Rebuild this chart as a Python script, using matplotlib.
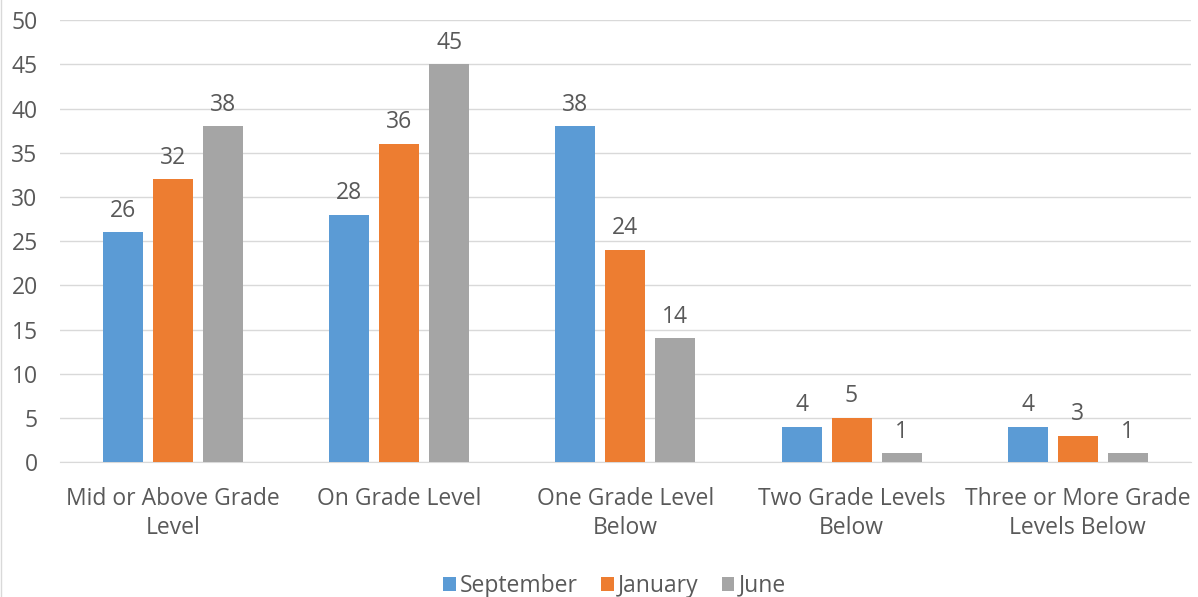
import matplotlib.pyplot as plt
import numpy as np

categories = ["Mid or Above Grade\nLevel", "On Grade Level", "One Grade Level\nBelow",
              "Two Grade Levels\nBelow", "Three or More Grade\nLevels Below"]
september = [26, 28, 38, 4, 4]
january = [32, 36, 24, 5, 3]
june = [38, 45, 14, 1, 1]

series = [("September", september, "#5B9BD5"),
          ("January", january, "#ED7D31"),
          ("June", june, "#A5A5A5")]

plt.rcParams['font.family'] = ['Open Sans', 'DejaVu Sans']
txt = "#595959"
fs = 16.5

fig = plt.figure(figsize=(11.98, 5.97), dpi=100)
ax = fig.add_axes([0.050, 0.226, 0.944, 0.740])

x = np.arange(len(categories))
w = 0.177
step = 0.221
for i, (name, vals, col) in enumerate(series):
    bars = ax.bar(x + (i - 1) * step, vals, w, color=col, label=name, zorder=3)
    for b, v in zip(bars, vals):
        ax.annotate(str(v), (b.get_x() + b.get_width() / 2, v), xytext=(0, 7),
                    textcoords="offset points", ha="center", va="bottom",
                    fontsize=fs, color=txt)

ax.set_xlim(-0.5, len(categories) - 0.5)
ax.set_ylim(0, 50)
ax.set_yticks(range(0, 51, 5))
ax.yaxis.grid(True, color="#D9D9D9", linewidth=1, zorder=0)
ax.set_xticks(x)
ax.set_xticklabels(categories, fontsize=fs, color=txt, linespacing=1.3)
ax.tick_params(axis="y", labelsize=fs, labelcolor=txt, length=0, pad=16)
ax.tick_params(axis="x", length=0, pad=18)
for s in ["top", "right", "left"]:
    ax.spines[s].set_visible(False)
ax.spines["bottom"].set_color("#D9D9D9")

fig.legend(loc="lower center", bbox_to_anchor=(0.513, -0.036), ncol=3, frameon=False,
           fontsize=fs, labelcolor=txt, handlelength=0.55, handleheight=0.55,
           handletextpad=0.2, columnspacing=1.0)

# faint outer border on the left like the original screenshot
fig.add_artist(plt.Line2D([0.001, 0.001], [0, 1], color="#D9D9D9", lw=1))

fig.savefig("out.png", dpi=100)
